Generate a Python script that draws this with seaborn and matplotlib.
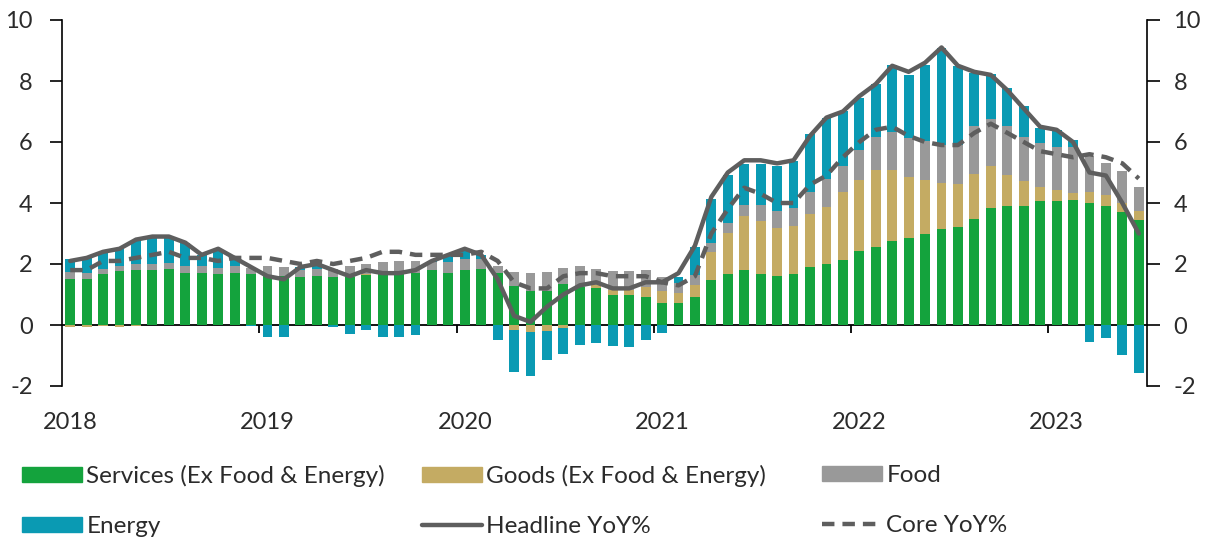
import numpy as np
import pandas as pd
import matplotlib
matplotlib.use("Agg")
import matplotlib.pyplot as plt
from matplotlib.patches import Patch
from matplotlib.lines import Line2D
import seaborn as sns

# monthly, Jan 2018 - Jun 2023 (contributions to YoY%, pp)
months = pd.date_range("2018-01-01", "2023-06-01", freq="MS")

services = [1.50, 1.50, 1.68, 1.76, 1.81, 1.81, 1.83, 1.72, 1.72, 1.68, 1.72, 1.68,
            1.62, 1.60, 1.57, 1.60, 1.57, 1.57, 1.65, 1.70, 1.70, 1.70, 1.80, 1.72,
            1.79, 1.83, 1.70, 1.28, 1.13, 1.13, 1.35, 1.24, 1.20, 0.99, 1.00, 0.93,
            0.71, 0.71, 0.93, 1.46, 1.68, 1.79, 1.68, 1.62, 1.68, 1.90, 2.00, 2.14,
            2.41, 2.57, 2.74, 2.85, 2.98, 3.14, 3.21, 3.48, 3.83, 3.89, 3.89, 4.05,
            4.05, 4.10, 4.00, 3.89, 3.69, 3.43]
goods = [-0.05, -0.05, -0.02, -0.05, -0.02, 0.00, 0.00, 0.00, 0.00, 0.00, 0.00, 0.00,
         0.00, 0.00, 0.00, 0.00, 0.00, 0.00, 0.03, 0.00, 0.00, 0.00, 0.00, 0.00,
         0.00, 0.00, 0.00, -0.15, -0.22, -0.20, -0.10, 0.00, 0.10, 0.15, 0.15, 0.33,
         0.40, 0.33, 0.38, 0.92, 1.34, 1.78, 1.73, 1.57, 1.56, 1.73, 1.88, 2.21,
         2.33, 2.50, 2.33, 2.00, 1.76, 1.53, 1.42, 1.48, 1.37, 1.04, 0.82, 0.49,
         0.36, 0.22, 0.35, 0.38, 0.31, 0.30]
food = [0.25, 0.22, 0.15, 0.16, 0.19, 0.19, 0.20, 0.22, 0.22, 0.20, 0.20, 0.20,
        0.30, 0.30, 0.24, 0.25, 0.26, 0.35, 0.33, 0.38, 0.40, 0.40, 0.25, 0.33,
        0.37, 0.33, 0.25, 0.47, 0.57, 0.60, 0.52, 0.68, 0.55, 0.62, 0.62, 0.55,
        0.45, 0.33, 0.33, 0.31, 0.31, 0.35, 0.52, 0.55, 0.60, 0.74, 0.90, 0.85,
        1.00, 1.10, 1.25, 1.28, 1.28, 1.24, 1.28, 1.58, 1.56, 1.59, 1.46, 1.42,
        1.42, 1.51, 1.18, 1.04, 1.04, 0.80]
energy = [0.40, 0.50, 0.57, 0.62, 0.80, 0.88, 0.87, 0.74, 0.36, 0.60, 0.26, -0.03,
          -0.38, -0.38, 0.08, 0.12, -0.05, -0.28, -0.15, -0.38, -0.38, -0.33, 0.05, 0.25,
          0.33, 0.14, -0.49, -1.40, -1.45, -0.95, -0.85, -0.65, -0.60, -0.70, -0.72, -0.50,
          -0.25, 0.22, 0.93, 1.43, 1.60, 1.35, 1.34, 1.48, 1.54, 1.90, 2.00, 1.81,
          1.70, 1.72, 2.22, 2.08, 2.52, 3.18, 2.57, 1.73, 1.46, 1.26, 1.00, 0.49,
          0.57, 0.24, -0.55, -0.44, -0.99, -1.59]
headline = [2.1, 2.2, 2.4, 2.5, 2.8, 2.9, 2.9, 2.7, 2.3, 2.5, 2.2, 1.9,
            1.6, 1.5, 1.9, 2.0, 1.8, 1.6, 1.8, 1.7, 1.7, 1.8, 2.1, 2.3,
            2.5, 2.3, 1.5, 0.3, 0.1, 0.6, 1.0, 1.3, 1.4, 1.2, 1.2, 1.4,
            1.4, 1.7, 2.6, 4.2, 5.0, 5.4, 5.4, 5.3, 5.4, 6.2, 6.8, 7.0,
            7.5, 7.9, 8.5, 8.3, 8.6, 9.1, 8.5, 8.3, 8.2, 7.7, 7.1, 6.5,
            6.4, 6.0, 5.0, 4.9, 4.0, 3.0]
core = [1.8, 1.8, 2.1, 2.1, 2.2, 2.3, 2.4, 2.2, 2.2, 2.1, 2.2, 2.2,
        2.2, 2.1, 2.0, 2.1, 2.0, 2.1, 2.2, 2.4, 2.4, 2.3, 2.3, 2.3,
        2.3, 2.4, 2.1, 1.4, 1.2, 1.2, 1.6, 1.7, 1.7, 1.6, 1.6, 1.6,
        1.4, 1.3, 1.6, 3.0, 3.8, 4.5, 4.3, 4.0, 4.0, 4.6, 4.9, 5.5,
        6.0, 6.4, 6.5, 6.2, 6.0, 5.9, 5.9, 6.3, 6.6, 6.3, 6.0, 5.7,
        5.6, 5.5, 5.6, 5.5, 5.3, 4.8]

year_labels = ["2018", "2019", "2020", "2021", "2022", "2023"]

sns.set_theme(style="white")
plt.rcParams["font.family"] = ["Lato", "DejaVu Sans"]
plt.rcParams["axes.unicode_minus"] = False

c_serv = "#14A33D"
c_goods = "#C4AB63"
c_food = "#999999"
c_energy = "#0A9AB3"
c_line = "#5E5E5E"
txt = "#2B2B2B"
fs = 17

df = pd.DataFrame({"month": months, "services": services, "goods": goods,
                   "food": food, "energy": energy,
                   "headline": headline, "core": core})
df["x"] = np.arange(len(df))

W, H = 1205, 543
fig = plt.figure(figsize=(W / 100, H / 100), dpi=100)
ax = fig.add_axes([62 / W, 1 - 386 / H, (1147 - 62) / W, (386 - 20) / H])

# stacked bars: positives go up, negatives go down
pos_base = np.zeros(len(df))
neg_base = np.zeros(len(df))
for col, colr in [("services", c_serv), ("goods", c_goods),
                  ("food", c_food), ("energy", c_energy)]:
    v = df[col].to_numpy()
    base = np.where(v >= 0, pos_base, neg_base)
    ax.bar(df["x"], v, bottom=base, width=0.6, color=colr, linewidth=0, zorder=2)
    pos_base += np.where(v >= 0, v, 0)
    neg_base += np.where(v < 0, v, 0)

dash = (0, (2.8, 1.8))
sns.lineplot(data=df, x="x", y="headline", ax=ax, color=c_line, lw=3.2, zorder=4)
sns.lineplot(data=df, x="x", y="core", ax=ax, color=c_line, lw=3.2, zorder=4,
             dashes=False, linestyle=dash)

ax.set_xlim(-0.5, len(df) - 0.5)
ax.set_ylim(-2, 10)
ax.set_yticks(range(-2, 11, 2))
ax.set_xlabel("")
ax.set_ylabel("")
ax.set_xticks(range(0, len(df), 12))
ax.set_xticklabels(year_labels)
ax.tick_params(axis="x", length=0, pad=19, labelsize=fs, labelcolor=txt)
ax.tick_params(axis="y", direction="out", length=9, width=1.2, color="black",
               pad=12, labelsize=fs, labelcolor=txt, left=True)
for s in ["top", "right", "bottom"]:
    ax.spines[s].set_visible(False)
ax.spines["left"].set_color("black")
ax.spines["left"].set_linewidth(1.2)

# zero line with year separators
zx = ax.secondary_xaxis(2 / 12)
zx.set_xticks([11.5, 23.5, 35.5, 47.5, 59.5])
zx.set_xticklabels([])
zx.tick_params(axis="x", direction="out", length=6, width=1.3, color="black")
zx.spines["bottom"].set_color("black")
zx.spines["bottom"].set_linewidth(1.3)

ax2 = ax.twinx()
ax2.set_ylim(-2, 10)
ax2.set_yticks(range(-2, 11, 2))
ax2.tick_params(axis="y", direction="out", length=9, width=1.2, color="black",
                pad=10, labelsize=fs, labelcolor=txt, right=True)
for s in ["top", "left", "bottom"]:
    ax2.spines[s].set_visible(False)
ax2.spines["right"].set_color("black")
ax2.spines["right"].set_linewidth(1.2)
ax2.grid(False)
ax.grid(False)

# legend: 2 rows x 3 columns, each column its own legend
h_serv = Patch(color=c_serv, label="Services (Ex Food & Energy)")
h_goods = Patch(color=c_goods, label="Goods (Ex Food & Energy)")
h_food = Patch(color=c_food, label="Food")
h_energy = Patch(color=c_energy, label="Energy")
h_head = Line2D([], [], color=c_line, lw=3.2, label="Headline YoY%")
h_core = Line2D([], [], color=c_line, lw=3.2, linestyle=dash, label="Core YoY%")

for handles, xpx in [([h_serv, h_energy], 22), ([h_goods, h_head], 422),
                     ([h_food, h_core], 822)]:
    fig.legend(handles=handles, loc="upper left",
               bbox_to_anchor=(xpx / W, 1 - 465 / H), frameon=False,
               borderpad=0, borderaxespad=0, handlelength=2.45,
               handleheight=0.6, handletextpad=0.2, labelspacing=1.2,
               fontsize=fs + 0.5, labelcolor=txt)

fig.savefig("out.png", dpi=100)
